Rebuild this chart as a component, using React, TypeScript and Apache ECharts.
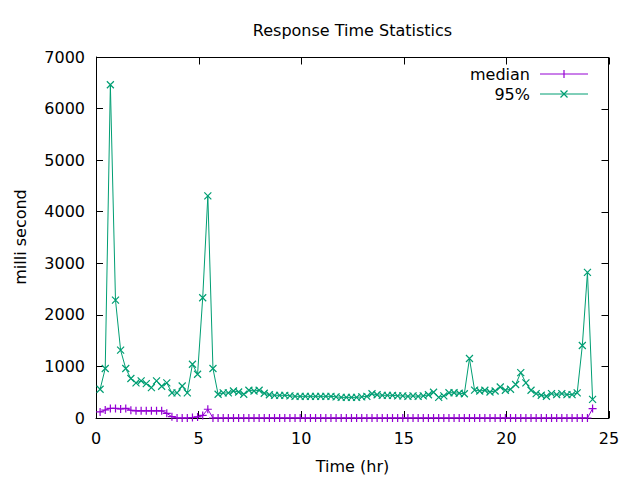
import React, { useEffect, useRef } from "react";
import * as echarts from "echarts";

const TITLE = "Response Time Statistics";
const X_NAME = "Time (hr)";
const Y_NAME = "milli second";
const SERIES_NAMES = ["median", "95%"];

const X_TICKS = [0, 5, 10, 15, 20, 25];
const Y_TICKS = [0, 1000, 2000, 3000, 4000, 5000, 6000, 7000];

const HOURS = [
  0.2, 0.45, 0.7, 0.95, 1.2, 1.45, 1.7, 1.95, 2.2, 2.45,
  2.7, 2.95, 3.2, 3.45, 3.7, 3.95, 4.2, 4.45, 4.7, 4.95,
  5.2, 5.45, 5.7, 5.95, 6.2, 6.45, 6.7, 6.95, 7.2, 7.45,
  7.7, 7.95, 8.2, 8.45, 8.7, 8.95, 9.2, 9.45, 9.7, 9.95,
  10.2, 10.45, 10.7, 10.95, 11.2, 11.45, 11.7, 11.95, 12.2, 12.45,
  12.7, 12.95, 13.2, 13.45, 13.7, 13.95, 14.2, 14.45, 14.7, 14.95,
  15.2, 15.45, 15.7, 15.95, 16.2, 16.45, 16.7, 16.95, 17.2, 17.45,
  17.7, 17.95, 18.2, 18.45, 18.7, 18.95, 19.2, 19.45, 19.7, 19.95,
  20.2, 20.45, 20.7, 20.95, 21.2, 21.45, 21.7, 21.95, 22.2, 22.45,
  22.7, 22.95, 23.2, 23.45, 23.7, 23.95, 24.2,
];

const MEDIAN = [
  117, 155, 185, 185, 175, 185, 150, 140, 140, 140,
  140, 140, 140, 90, 25, 0, 0, 0, 10, 20,
  50, 170, 0, 0, 0, 0, 0, 0, 0, 0,
  0, 0, 0, 0, 0, 0, 0, 0, 0, 0,
  0, 0, 0, 0, 0, 0, 0, 0, 0, 0,
  0, 0, 0, 0, 0, 0, 0, 0, 0, 0,
  0, 0, 0, 0, 0, 0, 0, 0, 0, 0,
  0, 0, 0, 0, 0, 0, 0, 0, 0, 0,
  0, 0, 0, 0, 0, 0, 0, 0, 0, 0,
  0, 0, 0, 0, 0, 0, 182,
];

const P95 = [
  557, 959, 6461, 2286, 1315, 959, 765, 680, 719, 668,
  590, 719, 616, 680, 486, 486, 621, 486, 1043, 849,
  2331, 4306, 959, 460, 486, 486, 524, 505, 460, 538,
  524, 538, 480, 450, 440, 440, 440, 430, 420, 420,
  420, 420, 420, 420, 420, 420, 410, 400, 400, 400,
  400, 410, 420, 470, 450, 440, 440, 440, 430, 430,
  420, 430, 420, 430, 450, 500, 400, 430, 490, 490,
  480, 470, 1153, 540, 524, 538, 505, 524, 602, 538,
  557, 649, 880, 680, 538, 474, 441, 421, 474, 454,
  474, 454, 454, 486, 1405, 2824, 360,
];

const PURPLE = "#9400d3";
const GREEN = "#009e73";
const FONT = "DejaVu Sans";

const PLUS = "path://M5,0L5,10M0,5L10,5";
const CROSS = "path://M0,0L10,10M10,0L0,10";

const CHART_W = 640;
const CHART_H = 480;
const GRID = { left: 96, right: 31, top: 57, bottom: 62 };

function makeAxis(min: number, max: number, interval: number, position: string, margin: number) {
  return {
    type: "value",
    show: true,
    min,
    max,
    interval,
    position,
    axisLine: { show: true, onZero: false, lineStyle: { color: "#000", width: 1 } },
    axisTick: { show: true, inside: true, length: 7, lineStyle: { color: "#000", width: 1 } },
    splitLine: { show: false },
    axisLabel: {
      show: true,
      color: "#000",
      fontFamily: FONT,
      fontSize: 16,
      margin,
      formatter: (v: number) => String(v),
    },
  };
}

export default function App() {
  const ref = useRef<HTMLDivElement>(null);

  useEffect(() => {
    document.body.style.margin = "0";
    if (!ref.current) return;
    const chart = echarts.init(ref.current, null, { renderer: "svg" });

    const medianData = HOURS.map((h, i) => [h, MEDIAN[i]]);
    const p95Data = HOURS.map((h, i) => [h, P95[i]]);

    const textStyle = (text: string, align: string) => ({
      text,
      fill: "#000",
      font: `16px "${FONT}"`,
      align,
      verticalAlign: "middle",
    });

    // Mirror frame (top and right) from the grid layout and tick arrays
    const xMin = X_TICKS[0];
    const xMax = X_TICKS[X_TICKS.length - 1];
    const yMin = Y_TICKS[0];
    const yMax = Y_TICKS[Y_TICKS.length - 1];
    const leftPx = GRID.left;
    const rightPx = CHART_W - GRID.right;
    const topPx = GRID.top;
    const bottomPx = CHART_H - GRID.bottom;
    const xToPx = (x: number) => leftPx + ((x - xMin) / (xMax - xMin)) * (rightPx - leftPx);
    const yToPx = (y: number) => bottomPx - ((y - yMin) / (yMax - yMin)) * (bottomPx - topPx);
    const frameStyle = { stroke: "#000", lineWidth: 1 };
    const topY = topPx + 0.5;
    const rightX = rightPx - 0.5;

    const frame: any[] = [
      {
        type: "line",
        z: 100,
        shape: { x1: leftPx, y1: topY, x2: rightPx, y2: topY },
        style: frameStyle,
      },
      {
        type: "line",
        z: 100,
        shape: { x1: rightX, y1: topPx, x2: rightX, y2: bottomPx + 1 },
        style: frameStyle,
      },
    ];
    X_TICKS.forEach((t) => {
      const px = Math.round(xToPx(t)) + 0.5;
      frame.push({
        type: "line",
        z: 100,
        shape: { x1: px, y1: topY, x2: px, y2: topY + 7 },
        style: frameStyle,
      });
    });
    Y_TICKS.forEach((t) => {
      const py = Math.round(yToPx(t)) + 0.5;
      frame.push({
        type: "line",
        z: 100,
        shape: { x1: rightX, y1: py, x2: rightX - 7, y2: py },
        style: frameStyle,
      });
    });

    const graphic: any[] = [
      { type: "text", x: 352.5, y: 30, style: textStyle(TITLE, "center") },
      { type: "text", x: 352.5, y: 466, style: textStyle(X_NAME, "center") },
      {
        type: "text",
        x: 20,
        y: 237,
        rotation: Math.PI / 2,
        style: textStyle(Y_NAME, "center"),
      },
      { type: "text", x: 530, y: 74, style: textStyle(SERIES_NAMES[0], "right") },
      {
        type: "line",
        shape: { x1: 540, y1: 74, x2: 588, y2: 74 },
        style: { stroke: PURPLE, lineWidth: 1 },
      },
      {
        type: "line",
        shape: { x1: 564, y1: 70, x2: 564, y2: 78 },
        style: { stroke: PURPLE, lineWidth: 1.2 },
      },
      { type: "text", x: 530, y: 94, style: textStyle(SERIES_NAMES[1], "right") },
      {
        type: "line",
        shape: { x1: 540, y1: 94, x2: 588, y2: 94 },
        style: { stroke: GREEN, lineWidth: 1 },
      },
      {
        type: "line",
        shape: { x1: 560.5, y1: 90.5, x2: 567.5, y2: 97.5 },
        style: { stroke: GREEN, lineWidth: 1.2 },
      },
      {
        type: "line",
        shape: { x1: 560.5, y1: 97.5, x2: 567.5, y2: 90.5 },
        style: { stroke: GREEN, lineWidth: 1.2 },
      },
      ...frame,
    ];

    chart.setOption({
      animation: false,
      grid: { ...GRID },
      xAxis: makeAxis(xMin, xMax, 5, "bottom", 12),
      yAxis: makeAxis(yMin, yMax, 1000, "left", 11),
      series: [
        {
          name: SERIES_NAMES[0],
          type: "line",
          data: medianData,
          symbol: PLUS,
          symbolSize: 8,
          showSymbol: true,
          lineStyle: { color: PURPLE, width: 1 },
          itemStyle: { color: PURPLE, borderColor: PURPLE, borderWidth: 1.2 },
          z: 2,
        },
        {
          name: SERIES_NAMES[1],
          type: "line",
          data: p95Data,
          symbol: CROSS,
          symbolSize: 7,
          showSymbol: true,
          lineStyle: { color: GREEN, width: 1 },
          itemStyle: { color: GREEN, borderColor: GREEN, borderWidth: 1.2 },
          z: 3,
        },
      ],
      graphic,
    });

    return () => chart.dispose();
  }, []);

  return <div ref={ref} style={{ width: CHART_W, height: CHART_H }} />;
}
